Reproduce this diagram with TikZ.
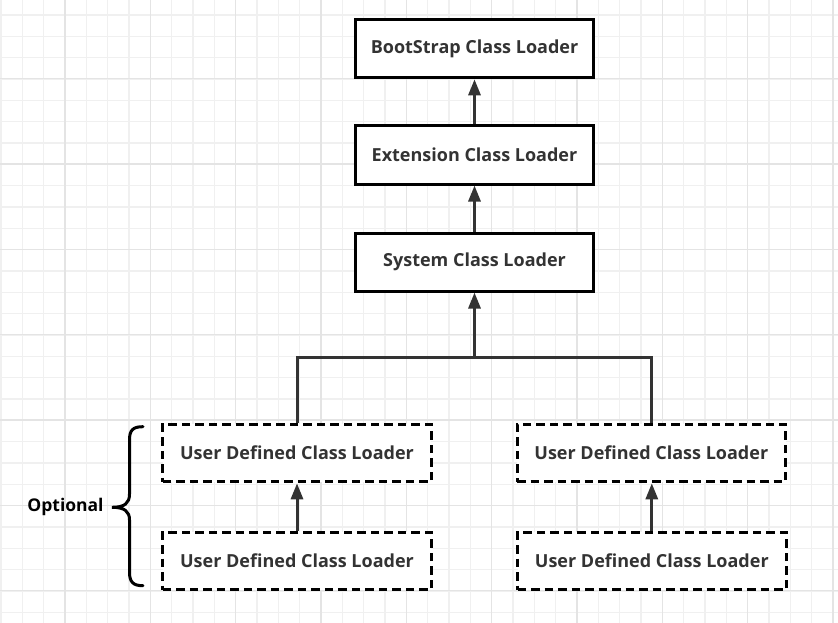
\documentclass[tikz,border=0pt]{standalone}
\usepackage{fontspec}
\setmainfont{Open Sans}
\usetikzlibrary{arrows.meta}
\definecolor{txt}{HTML}{333333}
\definecolor{minorgrid}{HTML}{F0F0F0}
\definecolor{majorgrid}{HTML}{E4E4E4}
\tikzset{
  solidbox/.style={draw=black, line width=3pt, fill=white, minimum width=238pt, minimum height=58pt, inner sep=0pt, text=txt, font=\bfseries\fontsize{18}{21}\selectfont},
  dashbox/.style={solidbox, dash pattern=on 8.5pt off 5pt, minimum width=268.4pt, minimum height=57.6pt},
  conn/.style={draw=txt, line width=3pt},
  arr/.style={conn, -{Triangle[length=16pt,width=12pt]}},
  bracestyle/.style={draw=black, line width=3pt, line cap=round},
  labelstyle/.style={text=black, font=\bfseries\fontsize{17.5}{20}\selectfont, inner sep=0pt}
}
\begin{document}
\begin{tikzpicture}[x=1pt,y=-1pt]
\useasboundingbox (0,0) rectangle (838,623);
\fill[white] (0,0) rectangle (838,623);
% minor grid
\foreach \i in {0,...,39} {
  \draw[minorgrid, line width=1.2pt] ({1+21.3333*\i},0) -- ({1+21.3333*\i},623);
}
\foreach \i in {0,...,30} {
  \draw[minorgrid, line width=1.2pt] (0,{-6.33+21.3333*\i}) -- (838,{-6.33+21.3333*\i});
}
% major grid
\foreach \i in {-1,...,9} {
  \draw[majorgrid, line width=1.2pt] ({65+85.3333*\i},0) -- ({65+85.3333*\i},623);
}
\foreach \i in {-1,...,7} {
  \draw[majorgrid, line width=1.2pt] (0,{78.67+85.3333*\i}) -- (838,{78.67+85.3333*\i});
}
% nodes
\node[solidbox] (b1) at (474.5,48.8) {BootStrap Class Loader};
\node[solidbox] (b2) at (474.5,155) {Extension Class Loader};
\node[solidbox] (b3) at (474.5,262) {System Class Loader};
\node[dashbox] (b4) at (297,453) {User Defined Class Loader};
\node[dashbox] (b5) at (297,560.8) {User Defined Class Loader};
\node[dashbox] (b6) at (651.3,453) {User Defined Class Loader};
\node[dashbox] (b7) at (651.8,560.8) {User Defined Class Loader};
\node[labelstyle] (opt) at (65.5,507.3) {Optional};
\coordinate (j) at (474.5,357.7);
% connectors
\draw[arr] (b2) -- (b1);
\draw[arr] (b3) -- (b2);
\draw[arr] (b4.north) |- (j) -- (b3.south);
\draw[conn] (b6.north) |- (j);
\draw[arr] (b5) -- (b4);
\draw[arr] (b7.north) -- (b7.north |- b6.south);
% brace
\draw[bracestyle] (143,426.7) .. controls (133,426.7) and (129.5,430) .. (129.5,440) -- (129.5,494) .. controls (129.5,503) and (125,507.3) .. (112,507.3) .. controls (125,507.3) and (129.5,511.6) .. (129.5,520) -- (129.5,572) .. controls (129.5,582) and (133,585.7) .. (143,585.7);
\end{tikzpicture}
\end{document}
